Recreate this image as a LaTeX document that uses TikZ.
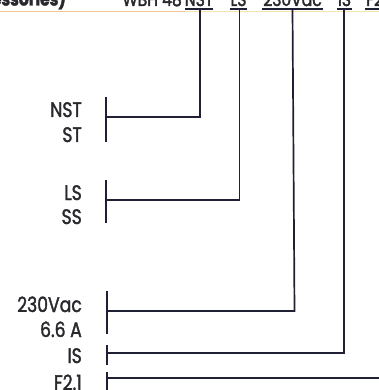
\documentclass[tikz,border=0pt]{standalone}
\usepackage{fontspec}
\setmainfont{Poppins}[FakeStretch=0.82]
\newfontfamily\labfont{Poppins}[FakeStretch=0.82,FakeBold=1.6]
\newfontfamily\hdrfont{Poppins}[FakeStretch=0.82,FakeBold=2]
\definecolor{linec}{RGB}{32,32,52}
\definecolor{textc}{RGB}{40,40,45}
\definecolor{rulec}{RGB}{240,196,150}
\definecolor{rulec2}{RGB}{244,230,170}
\begin{document}
\begin{tikzpicture}[x=1pt,y=-1pt,
  conn/.style={draw=linec, line width=1.7pt},
  lab/.style={anchor=base east, inner sep=0pt, text=textc, font=\labfont\fontsize{21}{21}\selectfont},
  code/.style={anchor=base, inner sep=0pt, text=textc, font=\hdrfont\fontsize{19}{19}\selectfont}]
\useasboundingbox (0,0) rectangle (379,390);
% header texts (mostly cut off by the top edge)
\node[anchor=base east, inner sep=0pt, text=textc, font=\hdrfont\fontsize{19}{19}\selectfont\bfseries] (hdr) at (66,5.5) {(Accessories)};
\node[anchor=base east, inner sep=0pt, text=textc, font=\hdrfont\fontsize{19}{19}\selectfont] (wbh) at (182,6) {WBH 48};
\node[code] (c1) at (199,6) {NST};
\node[code] (c2) at (238.5,6) {LS};
\node[code] (c3) at (292.5,6) {230Vac};
\node[code] (c4) at (344.5,6) {IS};
\node[code, anchor=base west] (c5) at (366,6) {F2.1};
% thin rule under header
\coordinate (r0) at (0,11);
\coordinate (r1) at (185,11);
\coordinate (r2) at (379,11);
\draw[rulec, line width=0.8pt] (r0) -- (r1);
\draw[rulec2, line width=0.8pt] (r1) -- (r2);
% T-bars
\coordinate (b1l) at (185,9); \coordinate (b1r) at (213,9); \coordinate (t1) at (200,9);
\coordinate (b2l) at (230,9); \coordinate (b2r) at (247,9); \coordinate (t2) at (239.5,9);
\coordinate (b3l) at (262,9); \coordinate (b3r) at (323,9); \coordinate (t3) at (292.5,9);
\coordinate (b4l) at (337,9); \coordinate (b4r) at (352,9); \coordinate (t4) at (344,9);
\coordinate (b5l) at (365,9); \coordinate (b5r) at (381,9);
\foreach \i in {1,...,5} {\draw[conn] (b\i l) -- (b\i r);}
% brackets
\coordinate (k1a) at (106,97);  \coordinate (k1b) at (106,142); \coordinate (k1m) at (106,117);
\coordinate (k2a) at (106,180); \coordinate (k2b) at (106,223); \coordinate (k2m) at (106,200);
\coordinate (k3a) at (107,291); \coordinate (k3b) at (107,334); \coordinate (k3m) at (107,311);
\coordinate (k4a) at (107,345); \coordinate (k4b) at (107,365); \coordinate (k4m) at (107,353);
\coordinate (k5a) at (107,372); \coordinate (k5b) at (107,392); \coordinate (k5m) at (107,378);
\coordinate (e5) at (381,378);
\foreach \i in {1,...,5} {\draw[conn] (k\i a) -- (k\i b);}
% connectors
\draw[conn] (k1m) -- (t1 |- k1m) -- (t1);
\draw[conn] (k2m) -- (t2 |- k2m) -- (t2);
\draw[conn] (k3m) -- (294.5,311) -- (t3);
\draw[conn] (k4m) -- (t4 |- k4m) -- (t4);
\draw[conn] (k5m) -- (e5);
% labels
\node[lab] (nst) at (82,117) {NST};
\node[lab] (st) at (82,142) {ST};
\node[lab] (ls) at (82,200) {LS};
\node[lab] (ss) at (82,224) {SS};
\node[lab] (v) at (82,312) {230Vac};
\node[lab] (a) at (82,337) {6.6 A};
\node[lab] (is) at (82,363) {IS};
\node[lab] (f) at (82,390) {F2.1};
\end{tikzpicture}
\end{document}
